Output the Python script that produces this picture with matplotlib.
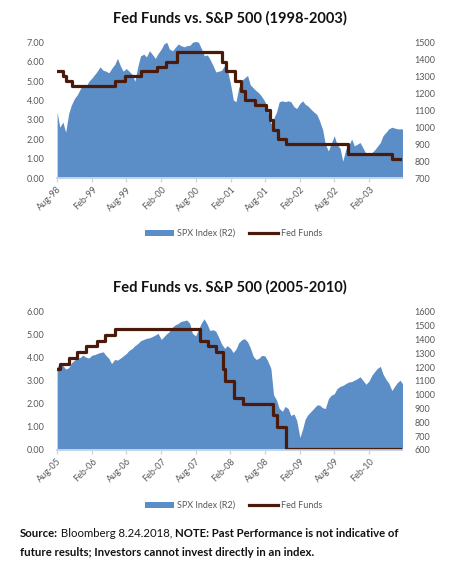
import pandas as pd
import matplotlib
matplotlib.use("Agg")
import matplotlib.pyplot as plt
import matplotlib.dates as mdates
from matplotlib.patches import Patch
from matplotlib.lines import Line2D

plt.rcParams['font.family'] = ['Lato', 'DejaVu Sans']

spx_98 = [1090, 1000, 1030, 970, 1080, 1130, 1170, 1190, 1225, 1250,
          1240, 1270, 1290, 1310, 1330, 1355, 1335, 1330, 1320, 1345,
          1370, 1405, 1360, 1330, 1345, 1330, 1310, 1270, 1360, 1420,
          1430, 1414, 1450, 1430, 1405, 1433, 1460, 1490, 1500, 1460,
          1450, 1470, 1490, 1480, 1473, 1480, 1482, 1500, 1505, 1500,
          1460, 1420, 1425, 1400, 1360, 1325, 1330, 1335, 1365, 1335,
          1250, 1160, 1150, 1230, 1275, 1290, 1305, 1250, 1230, 1215,
          1200, 1180, 1150, 1100, 1020, 1050, 1090, 1150, 1155, 1150,
          1155, 1150, 1120, 1110, 1140, 1155, 1135, 1125, 1105, 1090,
          1075, 1040, 985, 900, 860, 900, 950, 900, 875, 800,
          870, 890, 930, 890, 900, 910, 875, 845, 835, 850,
          865, 885, 910, 950, 970, 990, 1000, 995, 990, 990,
          990]

spx_05 = [1201, 1225, 1210, 1185, 1195, 1230, 1250, 1262, 1270, 1286,
          1270, 1265, 1286, 1290, 1298, 1305, 1310, 1285, 1262, 1225,
          1255, 1250, 1265, 1280, 1298, 1320, 1335, 1355, 1371, 1390,
          1400, 1408, 1412, 1420, 1432, 1444, 1400, 1420, 1440, 1456,
          1490, 1505, 1515, 1530, 1535, 1541, 1517, 1445, 1425, 1470,
          1520, 1549, 1510, 1465, 1470, 1460, 1415, 1370, 1335, 1355,
          1335, 1305, 1330, 1375, 1398, 1405, 1383, 1340, 1275, 1255,
          1265, 1285, 1280, 1245, 1190, 1000, 960, 900, 880, 915,
          900, 850, 860, 815, 690, 750, 824, 855, 880, 900,
          925, 925, 905, 900, 970, 995, 1006, 1043, 1060, 1067,
          1080, 1091, 1095, 1105, 1116, 1130, 1100, 1075, 1100, 1140,
          1165, 1189, 1205, 1150, 1110, 1085, 1030, 1060, 1090, 1104,
          1067]

# Fed funds target, date of each step as placed on the chart
ff_98_dates = ['1998-08-01', '1998-09-01', '1998-09-19', '1998-10-19',
               '1999-06-01', '1999-07-27', '1999-10-19', '2000-01-07',
               '2000-02-25', '2000-04-25', '2000-12-16', '2001-01-10',
               '2001-02-22', '2001-03-25', '2001-04-19', '2001-06-07',
               '2001-08-04', '2001-08-28', '2001-09-10', '2001-10-10',
               '2001-11-19', '2002-10-10', '2003-06-01', '2003-07-25']
ff_98 = [5.50, 5.25, 5.00, 4.75, 5.00, 5.25, 5.50, 5.75, 6.00, 6.50,
         6.00, 5.50, 5.00, 4.50, 4.00, 3.75, 3.50, 3.00, 2.50, 2.00,
         1.75, 1.25, 1.00, 1.00]

ff_05_dates = ['2005-08-01', '2005-08-18', '2005-10-01', '2005-11-16',
               '2006-01-01', '2006-02-28', '2006-04-13', '2006-06-04',
               '2007-08-25', '2007-10-04', '2007-11-19', '2007-12-25',
               '2008-01-04', '2008-02-22', '2008-04-07', '2008-09-13',
               '2008-10-04', '2008-11-22', '2010-07-25']
ff_05 = [3.50, 3.75, 4.00, 4.25, 4.50, 4.75, 5.00, 5.25, 4.75, 4.50,
         4.25, 3.50, 3.00, 2.25, 2.00, 1.50, 1.00, 0.05, 0.05]

titles = ['Fed Funds vs. S&P 500 (1998-2003)', 'Fed Funds vs. S&P 500 (2005-2010)']
ticks_98 = pd.date_range('1998-08-01', periods=10, freq='6MS')
ticks_05 = pd.date_range('2005-08-01', periods=10, freq='6MS')

BLUE = '#5b8dc6'
BROWN = '#4a1a0a'
GREY = '#595959'
AXIS = '#c8d5e8'


def draw_panel(fig, rect, title, start, spx, ff_dates, ff, end, left_max, right_lim, ticks):
    ax = fig.add_axes(rect)
    ax2 = ax.twinx()
    dates = pd.date_range(start, periods=len(spx), freq='SMS')
    ax2.fill_between(dates, right_lim[0], spx, color=BLUE, linewidth=0)
    ax.step(pd.to_datetime(ff_dates), ff, where='post', color=BROWN, linewidth=2.3)

    # keep the rate line above the index area
    ax.set_zorder(ax2.get_zorder() + 1)
    ax.patch.set_visible(False)

    ax.set_xlim(pd.Timestamp(start), pd.Timestamp(end))
    ax.set_ylim(0, left_max)
    ax.set_yticks(range(0, left_max + 1))
    ax.yaxis.set_major_formatter(matplotlib.ticker.FormatStrFormatter('%.2f'))
    ax2.set_ylim(*right_lim)
    ax2.set_yticks(range(right_lim[0], right_lim[1] + 1, 100))

    ax.set_xticks(ticks)
    ax.xaxis.set_major_formatter(mdates.DateFormatter('%b-%y'))
    for lab in ax.get_xticklabels():
        lab.set_rotation(45)
        lab.set_ha('right')
        lab.set_va('top')
        lab.set_rotation_mode('anchor')

    for a in (ax, ax2):
        for s in ('top', 'left', 'right'):
            a.spines[s].set_visible(False)
        a.spines['bottom'].set_color(AXIS)
        a.spines['bottom'].set_linewidth(1.2)
    ax.tick_params(axis='y', length=0, pad=9, labelsize=6.5, labelcolor=GREY)
    ax2.tick_params(axis='y', length=0, pad=9, labelsize=6.5, labelcolor=GREY)
    ax.tick_params(axis='x', length=3, width=1, color=AXIS, pad=2,
                   labelsize=6.5, labelcolor=GREY)

    bbox = ax.get_position()
    fig.text((bbox.x0 + bbox.x1) / 2, bbox.y1 + 0.042, title, ha='center', va='center',
             fontsize=10.5, fontweight='bold', color='#111111')

    handles = [Patch(facecolor=BLUE, edgecolor='none'),
               Line2D([], [], color=BROWN, linewidth=2.3)]
    fig.legend(handles, ['SPX Index (R2)', 'Fed Funds'], loc='center',
               bbox_to_anchor=(0.495, bbox.y0 - 0.097), ncol=2, frameon=False,
               fontsize=6.5, labelcolor=GREY, handlelength=3.2, handleheight=0.7,
               handletextpad=0.3, columnspacing=1.6)
    return ax


fig = plt.figure(figsize=(4.72, 5.71), dpi=100)

draw_panel(fig, [0.121, 0.688, 0.731, 0.238], titles[0], '1998-08-01', spx_98,
           ff_98_dates, ff_98, '2003-07-25', 7, (700, 1500), ticks_98)
draw_panel(fig, [0.121, 0.212, 0.731, 0.242], titles[1], '2005-08-01', spx_05,
           ff_05_dates, ff_05, '2010-07-25', 6, (600, 1600), ticks_05)

# footer with mixed bold / regular pieces
fig.canvas.draw()
renderer = fig.canvas.get_renderer()
x = 0.042
for piece, weight in [('Source:', 'bold'), (' Bloomberg 8.24.2018, ', 'normal'),
                      ('NOTE: Past Performance is not indicative of', 'bold')]:
    t = fig.text(x, 0.0665, piece, ha='left', va='center', fontsize=8.2,
                 fontweight=weight, color='#111111')
    ext = t.get_window_extent(renderer)
    x += ext.width / fig.bbox.width
fig.text(0.042, 0.033, 'future results; Investors cannot invest directly in an index.',
         ha='left', va='center', fontsize=8.2, fontweight='bold', color='#111111')

fig.savefig('out.png', dpi=100)
